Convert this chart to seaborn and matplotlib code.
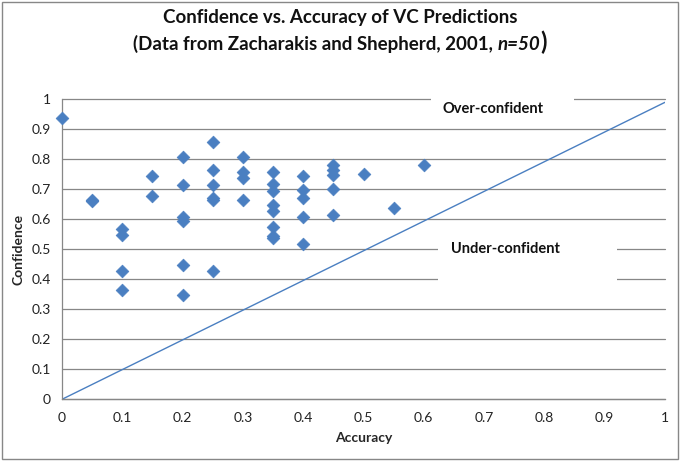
import numpy as np
import matplotlib
matplotlib.use("Agg")
import matplotlib.pyplot as plt
import seaborn as sns
from matplotlib.patches import Rectangle

# values
accuracy = [0.0,
            0.05, 0.05,
            0.1, 0.1, 0.1, 0.1,
            0.15, 0.15,
            0.2, 0.2, 0.2, 0.2, 0.2, 0.2,
            0.25, 0.25, 0.25, 0.25, 0.25, 0.25,
            0.3, 0.3, 0.3, 0.3,
            0.35, 0.35, 0.35, 0.35, 0.35, 0.35, 0.35, 0.35,
            0.4, 0.4, 0.4, 0.4, 0.4,
            0.45, 0.45, 0.45, 0.45, 0.45,
            0.5, 0.55, 0.6]
confidence = [0.936,
              0.660, 0.665,
              0.567, 0.549, 0.428, 0.364,
              0.743, 0.679,
              0.808, 0.715, 0.608, 0.594, 0.446, 0.346,
              0.858, 0.765, 0.715, 0.672, 0.664, 0.428,
              0.808, 0.758, 0.737, 0.664,
              0.758, 0.718, 0.694, 0.648, 0.628, 0.574, 0.544, 0.536,
              0.744, 0.696, 0.671, 0.609, 0.516,
              0.781, 0.763, 0.747, 0.701, 0.615,
              0.751, 0.637, 0.780]

diag_x = [0.0, 1.0]
diag_y = [0.0, 0.99]

tick_values = [0, 0.1, 0.2, 0.3, 0.4, 0.5, 0.6, 0.7, 0.8, 0.9, 1]
tick_labels = ["0", "0.1", "0.2", "0.3", "0.4", "0.5", "0.6", "0.7", "0.8", "0.9", "1"]

BLUE = "#4A7FC1"
GRID = "#878787"

sns.set_style("white")
plt.rcParams["font.family"] = ["Lato", "DejaVu Sans"]

W, H = 680, 461
fig = plt.figure(figsize=(W / 100, H / 100), dpi=100)
ax = fig.add_axes([62 / W, 1 - 399.3 / H, 603 / W, 300 / H])
ax.set_xlim(0, 1)
ax.set_ylim(0, 1)

ax.set_yticks(tick_values)
ax.set_yticklabels(tick_labels)
ax.set_xticks(tick_values)
ax.set_xticklabels(tick_labels)
ax.yaxis.grid(True, color=GRID, linewidth=0.9)
ax.xaxis.grid(False)
for gl in ax.get_ygridlines():
    gl.set_clip_on(False)

for side in ["top", "right"]:
    ax.spines[side].set_visible(False)
for side in ["left", "bottom"]:
    ax.spines[side].set_color(GRID)
    ax.spines[side].set_linewidth(0.9)

ax.tick_params(axis="y", length=3, color=GRID, labelsize=10, pad=5, labelcolor="#222222")
ax.tick_params(axis="x", length=0, labelsize=10, pad=9, labelcolor="#222222")

# white boxes behind the annotation text that hide the gridlines
ax.add_patch(Rectangle((0.612, 0.95), 0.237, 0.08, facecolor="white",
                       edgecolor="none", zorder=1, clip_on=False))
ax.add_patch(Rectangle((0.624, 0.37), 0.296, 0.16, facecolor="white",
                       edgecolor="none", zorder=1))

sns.lineplot(x=diag_x, y=diag_y, ax=ax, color=BLUE, linewidth=1.0, zorder=2)
sns.scatterplot(x=accuracy, y=confidence, ax=ax, marker="D", s=42,
                color=BLUE, edgecolor=BLUE, linewidth=0.5, zorder=3, clip_on=False)

ax.text(0.715, 0.968, "Over-confident", ha="center", va="center",
        fontsize=10.5, fontweight="bold", color="#111111", zorder=4)
ax.text(0.735, 0.5, "Under-confident", ha="center", va="center",
        fontsize=10.5, fontweight="bold", color="#111111", zorder=4)

ax.set_xlabel("Accuracy", fontsize=10, fontweight="bold", labelpad=6)
ax.set_ylabel("Confidence", fontsize=10, fontweight="bold", labelpad=5)

# title, first line
fig.text(0.5, 1 - 18 / H, "Confidence vs. Accuracy of VC Predictions",
         ha="center", va="center", fontsize=13.5, fontweight="bold", color="#111111")

# title, second line in three pieces (plain, italic, big parenthesis)
parts = [
    ("(Data from Zacharakis and Shepherd, 2001, ", dict(fontsize=13.5, fontweight="bold")),
    ("n=50", dict(fontsize=13.5, fontweight="bold", fontstyle="italic")),
    (")", dict(fontsize=17, fontweight="bold")),
]
fig.canvas.draw()
renderer = fig.canvas.get_renderer()
texts = []
widths = []
for s, kw in parts:
    t = fig.text(0, 1 - 50 / H, s, ha="left", va="baseline", color="#111111", **kw)
    widths.append(t.get_window_extent(renderer).width)
    texts.append(t)
x_px = (W - sum(widths)) / 2
for t, w in zip(texts, widths):
    t.set_x(x_px / W)
    x_px += w

fig.patches.append(Rectangle((1.5 / W, 2.5 / H), (W - 3.5) / W, (H - 5) / H,
                             transform=fig.transFigure, fill=False,
                             edgecolor=GRID, linewidth=1.0))

fig.savefig("out.png", dpi=100)
